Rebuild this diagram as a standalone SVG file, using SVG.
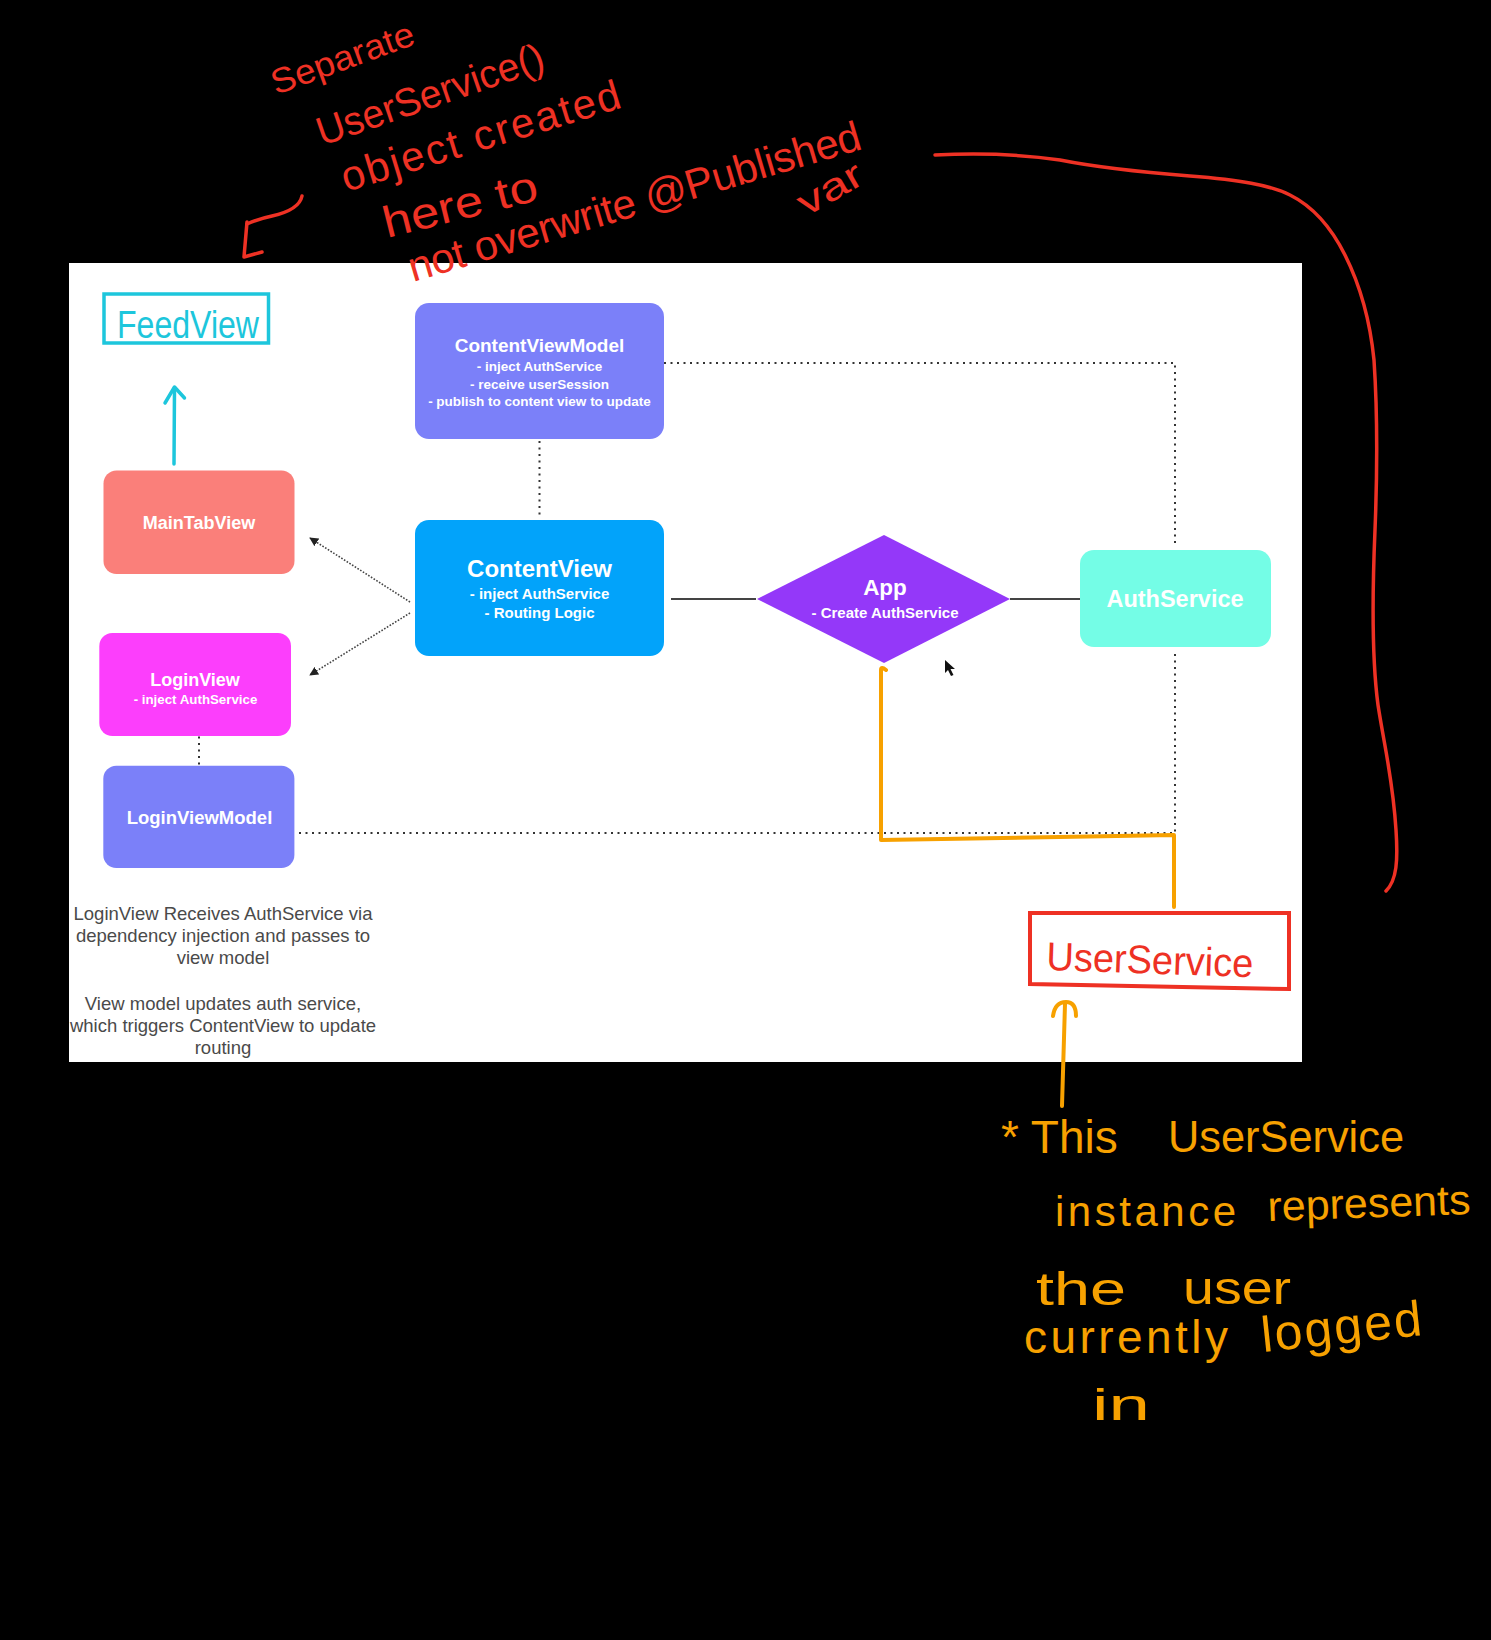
<svg xmlns="http://www.w3.org/2000/svg" width="1491" height="1640" viewBox="0 0 1491 1640">
<style>
.bg{fill:#000}
.panel{fill:#fff}
.t{font-family:"Liberation Sans",Arial,sans-serif;fill:#fff;font-weight:bold;text-anchor:middle}
.note{font-family:"Liberation Sans",Arial,sans-serif;fill:#4a4a4a;font-size:18.5px;text-anchor:middle}
.dot{fill:none;stroke:#333;stroke-width:2;stroke-dasharray:2 4.5}
.fine{fill:none;stroke:#444;stroke-width:1.6;stroke-dasharray:1.6 1.6}
.solid{fill:none;stroke:#444;stroke-width:2}
.hand{font-family:"Liberation Sans",Arial,sans-serif;font-weight:normal}
.red{fill:#EE3124}
.redS{fill:none;stroke:#EE3124;stroke-width:3.5;stroke-linecap:round;stroke-linejoin:round}
.org{fill:#F7A100}
.orgS{fill:none;stroke:#F7A100;stroke-width:4;stroke-linecap:round;stroke-linejoin:round}
.cyan{fill:#1DC6DC}
.cyanS{fill:none;stroke:#1DC6DC;stroke-width:3.5;stroke-linecap:round;stroke-linejoin:round}
</style>
<defs>
<clipPath id="pc"><rect x="69" y="263" width="1233" height="799"/></clipPath>
<marker id="ah" viewBox="0 0 10 10" refX="9" refY="5" markerWidth="9" markerHeight="9" markerUnits="userSpaceOnUse" orient="auto"><path d="M0,0 L10,5 L0,10 z" fill="#222"/></marker>
</defs>
<rect class="bg" x="0" y="0" width="1491" height="1640"/>
<rect class="panel" x="69" y="263" width="1233" height="799"/>

<g id="connectors">
<path class="dot" d="M664,363 H1175 V547"/>
<path class="dot" d="M539.5,441 V518"/>
<path class="dot" d="M199,730 V780"/>
<path class="dot" d="M299,833 H1175 V652"/>
<path class="fine" d="M410,602 L310,538" marker-end="url(#ah)"/>
<path class="fine" d="M410,613 L310,675" marker-end="url(#ah)"/>
<path class="solid" d="M671,599 H756"/>
<path class="solid" d="M1010,599 H1080"/>
</g>

<g id="node-contentviewmodel">
<rect x="415" y="303" width="249" height="136" rx="14" fill="#7B80F9"/>
<text class="t" x="539.5" y="352" font-size="19">ContentViewModel</text>
<text class="t" x="539.5" y="371" font-size="13.5">- inject AuthService</text>
<text class="t" x="539.5" y="389" font-size="13.5">- receive userSession</text>
<text class="t" x="539.5" y="406" font-size="13.5">- publish to content view to update</text>
</g>

<g id="node-contentview">
<rect x="415" y="520" width="249" height="136" rx="14" fill="#02A3FA"/>
<text class="t" x="539.5" y="577" font-size="24">ContentView</text>
<text class="t" x="539.5" y="599" font-size="15">- inject AuthService</text>
<text class="t" x="539.5" y="618" font-size="15">- Routing Logic</text>
</g>

<g id="node-maintabview">
<rect x="103.5" y="470.5" width="191" height="103.5" rx="13" fill="#FA7F7A"/>
<text class="t" x="199" y="529" font-size="18">MainTabView</text>
</g>

<g id="node-loginview">
<rect x="99.3" y="633" width="191.7" height="103" rx="13" fill="#FC3EFC"/>
<text class="t" x="195" y="686" font-size="18">LoginView</text>
<text class="t" x="195.5" y="704" font-size="13.3">- inject AuthService</text>
</g>

<g id="node-loginviewmodel">
<rect x="103.3" y="765.7" width="191.1" height="102.3" rx="13" fill="#7B80F9"/>
<text class="t" x="199.5" y="824" font-size="18.5">LoginViewModel</text>
</g>

<g id="node-app">
<polygon points="757,599 884,535 1010,599 884,663" fill="#9438F9"/>
<text class="t" x="885" y="595" font-size="22.5">App</text>
<text class="t" x="885" y="618" font-size="15">- Create AuthService</text>
</g>

<g id="node-authservice">
<rect x="1080" y="550" width="191" height="97" rx="14" fill="#74FDE6"/>
<text class="t" x="1175" y="607" font-size="23.5">AuthService</text>
</g>

<g id="note" clip-path="url(#pc)">
<text class="note" x="223" y="920">LoginView Receives AuthService via</text>
<text class="note" x="223" y="942">dependency injection and passes to</text>
<text class="note" x="223" y="964">view model</text>
<text class="note" x="223" y="1010">View model updates auth service,</text>
<text class="note" x="223" y="1032">which triggers ContentView to update</text>
<text class="note" x="223" y="1054">routing</text>
</g>

<g id="cursor">
<path d="M945,660 L945,673 L948,670 L951,676 L953.5,675 L950.5,669 L955,669 Z" fill="#111"/>
</g>

<g id="feedview">
<rect x="104" y="294" width="164.5" height="49" fill="none" stroke="#1DC6DC" stroke-width="3.5"/>
<text class="hand cyan" x="117" y="338" font-size="38" textLength="142" lengthAdjust="spacingAndGlyphs">FeedView</text>
<path class="cyanS" d="M174,464 L174.5,388"/>
<path class="cyanS" d="M165,403 L174.5,387 L184.5,398"/>
</g>

<g id="userservice">
<polygon points="1030,913 1289,913 1289,989 1030,984" fill="none" stroke="#EE3124" stroke-width="4"/>
<text class="hand red" x="1046" y="970" font-size="40" textLength="207" lengthAdjust="spacingAndGlyphs" transform="rotate(2 1046 970)">UserService</text>
</g>

<g id="orange-annotation">
<path class="orgS" d="M886,670 Q881,666 881,670 L881,840 L1174,835 L1174,907"/>
<path class="orgS" d="M1062,1106 L1065,1004"/>
<path class="orgS" d="M1053,1016 Q1055,1002 1066,1002 Q1076,1002 1076,1016"/>
<text class="hand org" x="1001" y="1153" font-size="46">* This</text>
<text class="hand org" x="1168" y="1152" font-size="44" textLength="236" lengthAdjust="spacingAndGlyphs">UserService</text>
<text class="hand org" x="1055" y="1226" font-size="42" textLength="181" lengthAdjust="spacing">instance</text>
<text class="hand org" x="1268" y="1221" font-size="42" textLength="203" lengthAdjust="spacingAndGlyphs" transform="rotate(-2 1268 1221)">represents</text>
<text class="hand org" x="1036" y="1305" font-size="46" textLength="90" lengthAdjust="spacingAndGlyphs">the</text>
<text class="hand org" x="1183" y="1304" font-size="46" textLength="108" lengthAdjust="spacingAndGlyphs">user</text>
<text class="hand org" x="1024" y="1353" font-size="46" textLength="204" lengthAdjust="spacing">currently</text>
<text class="hand org" x="1263" y="1352" font-size="50" textLength="161" lengthAdjust="spacing" transform="rotate(-6 1263 1352)">logged</text>
<text class="hand org" x="1092" y="1420" font-size="44" textLength="58" lengthAdjust="spacingAndGlyphs">in</text>
</g>

<g id="red-annotation">
<text class="hand red" x="276" y="95" font-size="35" textLength="150" lengthAdjust="spacingAndGlyphs" transform="rotate(-20 276 95)">Separate</text>
<text class="hand red" x="322" y="146" font-size="40" textLength="238" lengthAdjust="spacingAndGlyphs" transform="rotate(-19 322 146)">UserService()</text>
<text class="hand red" x="346" y="192" font-size="42" textLength="290" lengthAdjust="spacing" transform="rotate(-17 346 192)">object created</text>
<text class="hand red" x="387" y="238" font-size="44" textLength="158" lengthAdjust="spacingAndGlyphs" transform="rotate(-14 387 238)">here to</text>
<text class="hand red" x="413" y="282" font-size="42" textLength="470" lengthAdjust="spacing" transform="rotate(-16.5 413 282)">not overwrite @Published</text>
<text class="hand red" x="806" y="217" font-size="38" textLength="70" lengthAdjust="spacingAndGlyphs" transform="rotate(-30 806 217)">var</text>
<path class="redS" d="M302,196 C300,206 290,212 272,216 C262,218 254,221 247,224"/>
<path class="redS" d="M247,222 L244,257 L262,252"/>
<path class="redS" d="M935,155 C980,153 1020,154 1060,160 C1100,168 1140,172 1190,176 C1240,180 1270,185 1290,195 C1310,205 1330,225 1345,255 C1360,285 1370,320 1374,360 C1378,420 1377,480 1375,530 C1372,600 1372,660 1378,705 C1385,750 1393,780 1396,830 C1398,860 1397,880 1386,891"/>
</g>
</svg>
